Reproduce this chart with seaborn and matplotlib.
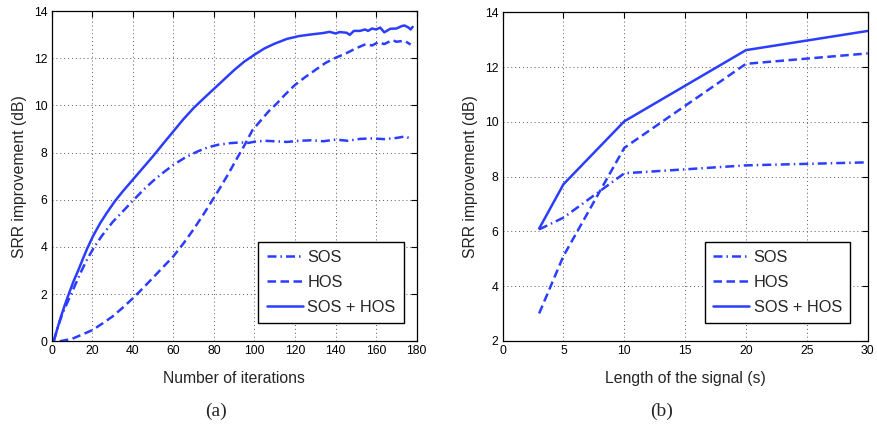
import numpy as np
import pandas as pd
import seaborn as sns
import matplotlib.pyplot as plt

# (a) SRR improvement vs number of iterations
iter_sos = [1, 3, 5, 7.5, 9.7, 12, 14.6, 17.5, 21, 25, 30, 35, 40.5, 45, 50, 55, 60, 66,
            72, 77, 82, 88, 93, 97, 100, 105, 110, 116, 122, 128, 134, 140, 146, 152, 158,
            164, 170, 174, 177]
srr_sos = [0, 0.6, 1.1, 1.6, 2.02, 2.47, 2.97, 3.48, 4.0, 4.5, 5.05, 5.5, 6.0, 6.4, 6.8,
           7.15, 7.48, 7.8, 8.05, 8.22, 8.33, 8.4, 8.43, 8.41, 8.46, 8.5, 8.48, 8.45, 8.5,
           8.52, 8.48, 8.55, 8.5, 8.58, 8.6, 8.57, 8.62, 8.68, 8.6]

iter_hos = [4, 10, 16, 20, 25, 30, 35, 40, 45, 50, 55, 60, 65, 70, 75, 79, 83, 87, 91, 95,
            99, 103, 107, 111, 115, 120, 125, 130, 135, 140, 145, 150, 155, 158, 161, 164,
            168, 170, 174, 177]
srr_hos = [0, 0.1, 0.32, 0.47, 0.75, 1.05, 1.42, 1.82, 2.25, 2.7, 3.15, 3.6, 4.15, 4.75,
           5.4, 5.95, 6.5, 7.08, 7.7, 8.3, 8.95, 9.35, 9.75, 10.08, 10.45, 10.87, 11.2, 11.5,
           11.8, 12.02, 12.2, 12.42, 12.6, 12.54, 12.68, 12.6, 12.77, 12.7, 12.74, 12.58]

iter_both = [1, 2.5, 4.4, 6.4, 8.4, 10.8, 13.3, 15.4, 17.6, 20.5, 24, 27, 31, 35, 40, 45,
             50, 55, 60, 65, 70, 75, 80, 85, 90, 95, 100, 105, 110, 116, 122, 128, 134,
             137, 140, 142, 145.5, 147, 149, 152, 154.5, 156, 158, 160, 162, 164, 167,
             170, 172.5, 174, 176, 177, 178]
srr_both = [0, 0.45, 1.0, 1.52, 2.0, 2.55, 3.05, 3.5, 3.95, 4.48, 5.02, 5.42, 5.92, 6.35,
            6.85, 7.35, 7.85, 8.38, 8.9, 9.42, 9.89, 10.3, 10.7, 11.1, 11.5, 11.86, 12.15,
            12.42, 12.62, 12.82, 12.94, 13.01, 13.07, 13.12, 13.05, 13.11, 13.08, 12.99,
            13.16, 13.16, 13.22, 13.16, 13.26, 13.22, 13.3, 13.1, 13.25, 13.26, 13.36,
            13.39, 13.3, 13.22, 13.33]

# (b) SRR improvement vs length of the signal
length_s = [3, 5, 10, 20, 30]
len_sos = [6.07, 6.5, 8.12, 8.41, 8.52]
len_hos = [3.0, 5.1, 9.05, 12.12, 12.5]
len_both = [6.1, 7.72, 10.02, 12.62, 13.32]

labels = ["SOS", "HOS", "SOS + HOS"]
blue = "#2b3dff"
styles = [(0, (3.6, 1.6, 0.6, 1.6)), (0, (3.4, 1.8)), "-"]

sns.set_theme(style="white")
plt.rcParams["font.family"] = ["Liberation Sans", "DejaVu Sans"]
plt.rcParams["xtick.direction"] = "in"
plt.rcParams["ytick.direction"] = "in"

fig = plt.figure(figsize=(8.78, 4.26), dpi=100)
ax1 = fig.add_axes([0.0589, 0.199, 0.4157, 0.775])
ax2 = fig.add_axes([0.5725, 0.200, 0.4157, 0.771])

panel_a = [(iter_sos, srr_sos), (iter_hos, srr_hos), (iter_both, srr_both)]
panel_b = [(length_s, len_sos), (length_s, len_hos), (length_s, len_both)]

for ax, series in [(ax1, panel_a), (ax2, panel_b)]:
    for (xs, ys), lab, ls in zip(series, labels, styles):
        df = pd.DataFrame({"x": xs, "y": ys})
        sns.lineplot(data=df, x="x", y="y", ax=ax, color=blue, linewidth=1.8,
                     linestyle=ls, label=lab, estimator=None, sort=False)

ax1.set_xlim(0, 180)
ax1.set_ylim(0, 14)
ax1.set_xticks(np.arange(0, 181, 20))
ax1.set_yticks(np.arange(0, 15, 2))
ax1.set_xlabel("Number of iterations", fontsize=11.3, labelpad=10)

ax2.set_xlim(0, 30)
ax2.set_ylim(2, 14)
ax2.set_xticks(np.arange(0, 31, 5))
ax2.set_yticks(np.arange(2, 15, 2))
ax2.set_xlabel("Length of the signal (s)", fontsize=11.3, labelpad=10)

legend_pos = {ax1: (0.965, 0.054), ax2: (0.952, 0.053)}
for ax in (ax1, ax2):
    ax.set_ylabel("SRR improvement (dB)", fontsize=11.3, labelpad=5)
    ax.grid(True, linestyle=(0, (1, 3)), linewidth=0.7, color="0.35")
    ax.tick_params(axis="both", which="both", labelsize=8.8, length=4, width=0.8,
                   top=True, right=True, pad=3, colors="black")
    for sp in ax.spines.values():
        sp.set_color("black")
        sp.set_linewidth(0.9)
    leg = ax.legend(loc="lower right", bbox_to_anchor=legend_pos[ax], borderaxespad=0,
                    fontsize=11.8, frameon=True, fancybox=False, handlelength=2.2,
                    labelspacing=0.62, borderpad=0.5, handletextpad=0.3)
    leg.get_frame().set_edgecolor("black")
    leg.get_frame().set_linewidth(1.0)
    leg.get_frame().set_alpha(1)

fig.text(0.246, 0.035, "(a)", ha="center", va="center", fontsize=14,
         family=["Liberation Serif", "DejaVu Serif"])
fig.text(0.753, 0.035, "(b)", ha="center", va="center", fontsize=14,
         family=["Liberation Serif", "DejaVu Serif"])

fig.savefig("out.png", dpi=100)
